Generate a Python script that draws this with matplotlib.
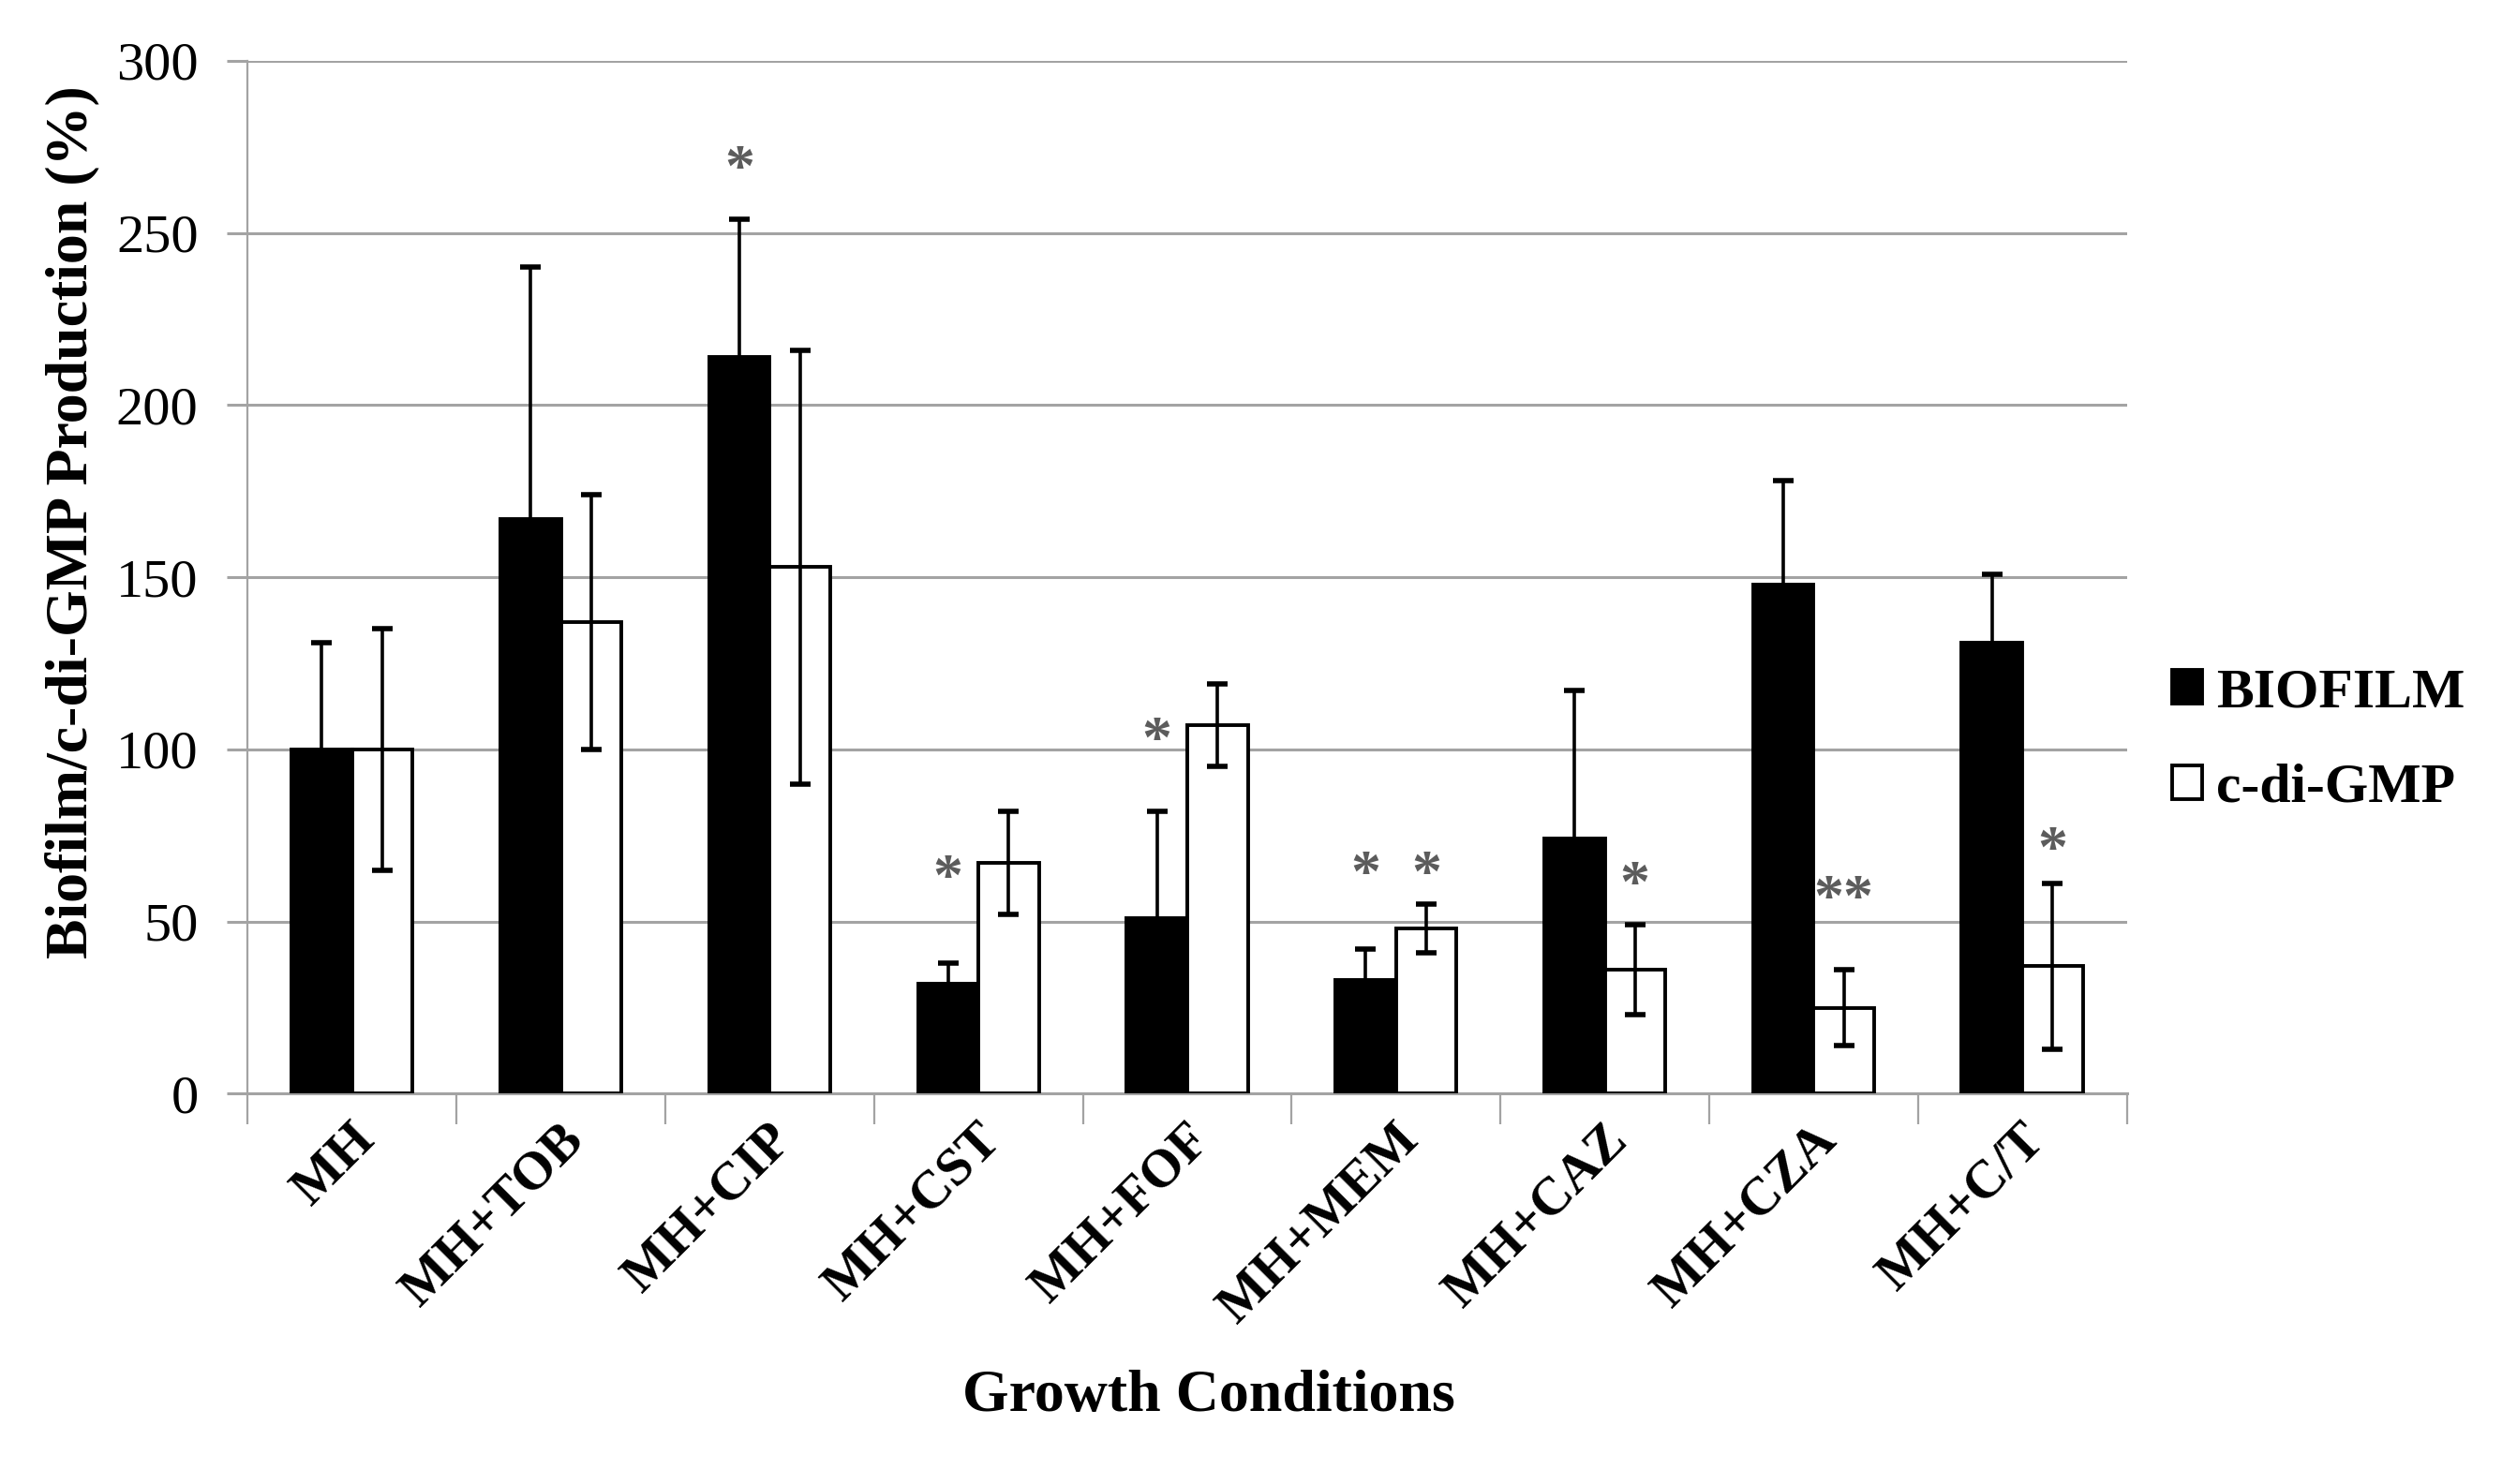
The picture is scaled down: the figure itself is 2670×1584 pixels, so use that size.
import matplotlib
matplotlib.use("Agg")
import matplotlib.pyplot as plt
import numpy as np

# values
categories = ['MH', 'MH+TOB', 'MH+CIP', 'MH+CST', 'MH+FOF',
              'MH+MEM', 'MH+CAZ', 'MH+CZA', 'MH+C/T']
biofilm = [100, 167, 214, 32, 51, 33, 74, 148, 131]
biofilm_err = [31, 73, 40, 6, 31, 9, 43, 30, 20]
cdigmp = [100, 137, 153, 67, 107, 48, 36, 25, 37]
cdigmp_err = [35, 37, 63, 15, 12, 7, 13, 11, 24]

# significance marks (label and height) above each series
sig_biofilm = ['', '', '*', '*', '*', '*', '', '', '']
sig_biofilm_y = [0, 0, 268, 62, 102, 63, 0, 0, 0]
sig_cdigmp = ['', '', '', '', '', '*', '*', '**', '*']
sig_cdigmp_y = [0, 0, 0, 0, 0, 63, 60, 56, 70]

yticks = [0, 50, 100, 150, 200, 250, 300]

serif = 'Liberation Serif'
grid_col = '#a3a3a3'
star_col = '#5c5c5c'

fig = plt.figure(figsize=(26.7, 15.84), dpi=100)
ax = fig.add_axes([0.099, 0.263, 0.751, 0.696])

x = np.arange(len(categories))
w = 0.29

b1 = ax.bar(x - w / 2, biofilm, w, color='black', edgecolor='black',
            linewidth=2.8, label='BIOFILM', zorder=3)
b2 = ax.bar(x + w / 2, cdigmp, w, color='white', edgecolor='black',
            linewidth=2.8, label='c-di-GMP', zorder=3)
ax.errorbar(x - w / 2, biofilm, yerr=biofilm_err, fmt='none', ecolor='black',
            elinewidth=2.6, capsize=8, capthick=4, zorder=4)
ax.errorbar(x + w / 2, cdigmp, yerr=cdigmp_err, fmt='none', ecolor='black',
            elinewidth=2.6, capsize=8, capthick=4, zorder=4)

for i in range(len(categories)):
    if sig_biofilm[i]:
        ax.text(x[i] - w / 2, sig_biofilm_y[i], sig_biofilm[i], ha='center',
                va='center', fontsize=46, fontweight='bold', color=star_col,
                family=serif, zorder=5)
    if sig_cdigmp[i]:
        ax.text(x[i] + w / 2, sig_cdigmp_y[i], sig_cdigmp[i], ha='center',
                va='center', fontsize=46, fontweight='bold', color=star_col,
                family=serif, zorder=5)

ax.set_xlim(-0.5, len(categories) - 0.5)
ax.set_ylim(0, 300)
ax.set_yticks(yticks)
ax.set_yticklabels([str(v) for v in yticks], family=serif, fontsize=42)
ax.yaxis.grid(True, color=grid_col, linewidth=2.2, zorder=0)
ax.set_axisbelow(True)

# label ticks sit a little right of the group centre (zero-length ticks)
ax.set_xticks(x + 0.07)
ax.set_xticklabels(categories, rotation=45, ha='right', va='center',
                   rotation_mode='anchor', family=serif, fontsize=41,
                   fontweight='bold')
ax.set_xticks(np.arange(-0.5, len(categories)), minor=True)
ax.tick_params(axis='x', which='major', length=0, pad=30)
ax.tick_params(axis='x', which='minor', length=24, width=1.6, color=grid_col,
               direction='out')
ax.tick_params(axis='y', length=16, width=2.2, color=grid_col, pad=22)

for s in ['top', 'right']:
    ax.spines[s].set_visible(False)
ax.spines['left'].set_color(grid_col)
ax.spines['left'].set_linewidth(1.6)
ax.spines['bottom'].set_color(grid_col)
ax.spines['bottom'].set_linewidth(2.2)

fig.text(0.029, 0.648, 'Biofilm/c-di-GMP Production (%)', rotation=90,
         ha='center', va='center', family=serif, fontsize=46,
         fontweight='bold')
fig.text(0.483, 0.059, 'Growth Conditions', ha='center', va='center',
         family=serif, fontsize=46, fontweight='bold')

leg = fig.legend(handles=[b1, b2], loc='center left',
                 bbox_to_anchor=(0.868, 0.5006), frameon=False,
                 prop={'family': serif, 'size': 43, 'weight': 'bold'},
                 handlelength=0.55, handleheight=0.55, handletextpad=0.25,
                 labelspacing=0.8, borderpad=0, borderaxespad=0)

fig.savefig('out.png', dpi=100, facecolor='white')
